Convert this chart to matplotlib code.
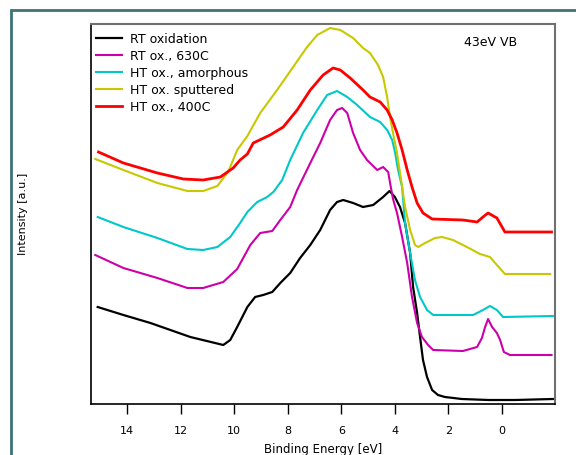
import matplotlib
matplotlib.use("Agg")
import matplotlib.pyplot as plt
from matplotlib.patches import Rectangle

# Valence-band spectra at 43 eV photon energy (intensity in arbitrary units, offset per sample)
labels = ["RT oxidation", "RT ox., 630C", "HT ox., amorphous", "HT ox. sputtered", "HT ox., 400C"]
colors = ["#000000", "#cc00aa", "#00c8c8", "#c8c800", "#ff0000"]

be_rt = [15.1, 14.14, 13.13, 11.64, 10.41, 10.15, 9.89, 9.51, 9.22, 8.92, 8.58, 8.28, 7.91,
         7.54, 7.16, 6.79, 6.42, 6.16, 5.93, 5.56, 5.19, 4.81, 4.44, 4.2, 4.0, 3.81, 3.62,
         3.43, 3.32, 3.17, 3.06, 2.95, 2.80, 2.61, 2.39, 2.13, 1.5, 0.5, -0.5, -1.9]
int_rt = [97, 89, 81, 67, 59, 64, 77, 97, 107, 109, 112, 121, 131,
          146, 159, 174, 194, 202, 204, 201, 197, 199, 207, 213, 207, 197, 181,
          151, 117, 91, 67, 44, 27, 14, 9, 7, 5, 4, 4, 5]

be_630 = [15.19, 14.14, 12.87, 11.75, 11.16, 10.41, 9.89, 9.40, 9.03, 8.58, 8.28, 7.91, 7.65,
          7.16, 6.79, 6.42, 6.16, 5.97, 5.78, 5.56, 5.30, 5.04, 4.66, 4.44, 4.25, 4.18, 4.07,
          3.92, 3.73, 3.54, 3.36, 3.17, 2.99, 2.76, 2.57, 1.46, 0.93, 0.75, 0.63, 0.52, 0.37,
          0.19, 0.07, -0.07, -0.3, -1.85]
int_630 = [149, 136, 126, 116, 116, 122, 135, 159, 171, 173, 184, 197, 214,
           241, 261, 284, 294, 296, 291, 271, 254, 244, 234, 237, 232, 221, 205,
           191, 167, 141, 107, 81, 67, 59, 54, 53, 57, 66, 77, 85, 77,
           71, 64, 52, 49, 49]

be_amo = [15.1, 14.14, 12.87, 11.75, 11.16, 10.63, 10.15, 9.78, 9.51, 9.14, 8.77, 8.54, 8.21,
          7.91, 7.43, 6.90, 6.53, 6.16, 5.78, 5.41, 4.93, 4.55, 4.29, 4.10, 3.99, 3.88, 3.73,
          3.62, 3.43, 3.25, 3.06, 2.80, 2.57, 1.08, 0.71, 0.45, 0.19, -0.04, -1.9]
int_amo = [187, 177, 166, 155, 154, 157, 167, 181, 192, 202, 207, 212, 224,
           244, 271, 294, 309, 313, 307, 299, 287, 282, 274, 264, 251, 234, 217,
           181, 151, 124, 107, 94, 89, 89, 94, 98, 94, 87, 88]

be_sput = [15.19, 14.14, 12.87, 11.75, 11.16, 10.63, 10.26, 10.15, 9.89, 9.51, 9.03, 8.40, 7.80,
           7.28, 6.90, 6.42, 6.04, 5.56, 5.19, 4.93, 4.63, 4.44, 4.29, 4.18, 4.07, 3.92, 3.73,
           3.62, 3.43, 3.25, 3.13, 2.87, 2.50, 2.24, 1.83, 1.31, 0.82, 0.45, 0.19, -0.11, -1.8]
int_sput = [245, 234, 221, 213, 213, 218, 231, 237, 254, 268, 291, 314, 337,
            357, 369, 376, 374, 366, 356, 351, 339, 327, 307, 287, 271, 251, 217,
            197, 174, 159, 157, 161, 166, 167, 164, 157, 150, 147, 139, 130, 130]

be_400 = [15.07, 14.14, 12.87, 11.90, 11.16, 10.52, 10.04, 9.78, 9.51, 9.29, 8.66, 8.17, 7.65,
          7.16, 6.68, 6.31, 6.04, 5.67, 5.19, 4.93, 4.55, 4.29, 4.10, 3.92, 3.73, 3.54, 3.36,
          3.17, 2.95, 2.61, 1.46, 0.93, 0.71, 0.52, 0.19, -0.11, -1.85]
int_400 = [252, 241, 231, 225, 224, 227, 236, 244, 250, 261, 269, 277, 294,
           314, 329, 336, 334, 326, 314, 307, 302, 294, 284, 271, 254, 234, 217,
           201, 191, 185, 184, 182, 187, 191, 186, 172, 172]

x_ticks = [14, 12, 10, 8, 6, 4, 2, 0]

series = [(be_rt, int_rt), (be_630, int_630), (be_amo, int_amo),
          (be_sput, int_sput), (be_400, int_400)]
widths = [1.6, 1.5, 1.5, 1.5, 2.0]

plt.rcParams["font.family"] = ["DejaVu Sans"]

fig = plt.figure(figsize=(5.76, 4.55), dpi=100)
ax = fig.add_axes([91 / 576, 1 - 404 / 455, (555 - 91) / 576, (404 - 24) / 455])

for (e, i), lab, col, lw in zip(series, labels, colors, widths):
    ax.plot(e, i, color=col, lw=lw, label=lab, solid_joinstyle="round")

ax.set_xlim(15.35, -1.98)
ax.set_ylim(0, 380)
ax.set_xticks(x_ticks)
ax.set_xticklabels([str(t) for t in x_ticks])
ax.set_yticks([])
ax.tick_params(axis="x", direction="out", length=7, width=1, pad=9, labelsize=8)

for side in ("left", "bottom"):
    ax.spines[side].set_color("black")
    ax.spines[side].set_linewidth(1.2)
for side in ("top", "right"):
    ax.spines[side].set_color("#707070")
    ax.spines[side].set_linewidth(1.5)

ax.set_xlabel("Binding Energy [eV]", fontsize=8.5, labelpad=5)
ax.set_ylabel("Intensity [a.u.]", fontsize=8, labelpad=45)

ax.text(0.803, 0.95, "43eV VB", transform=ax.transAxes, fontsize=9,
        ha="left", va="center")

ax.legend(loc="upper left", bbox_to_anchor=(-0.008, 1.0), frameon=False,
          fontsize=9, handlelength=2.1, handletextpad=0.6, labelspacing=0.32,
          borderaxespad=0.3)

# outer panel frame
fig.add_artist(Rectangle((11 / 576, -0.1), 1.2, 1 - 10 / 455 + 0.1,
                         transform=fig.transFigure, fill=False,
                         edgecolor="#3f7373", linewidth=2, clip_on=False))

fig.savefig("out.png", dpi=100)
